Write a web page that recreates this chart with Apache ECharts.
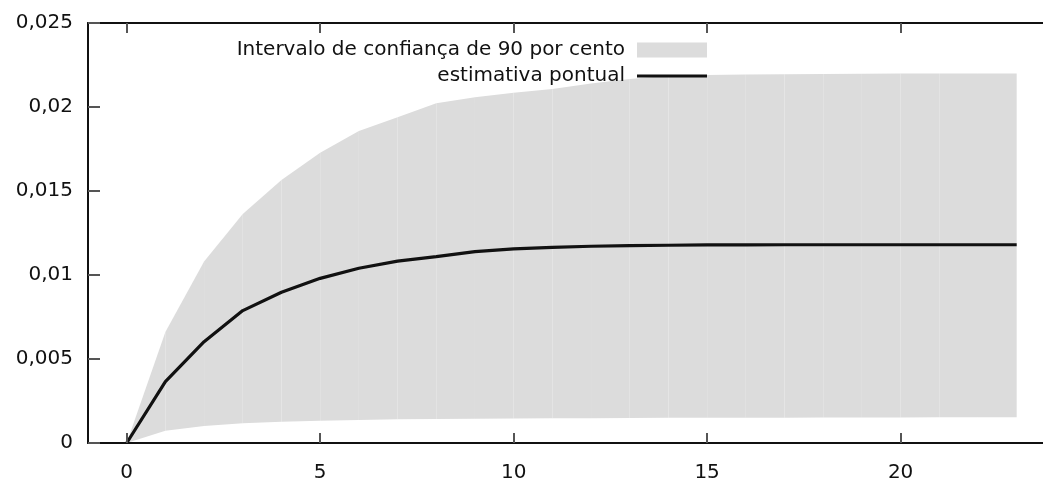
<!DOCTYPE html>
<html>
<head>
<meta charset="utf-8">
<script src="https://cdn.jsdelivr.net/npm/echarts@6/dist/echarts.min.js"></script>
<style>
html,body{margin:0;padding:0;background:#fff;}
#chart{width:1043px;height:479px;}
</style>
</head>
<body>
<div id="chart"></div>
<script>
// Horizons (x values)
const horizon = [0,1,2,3,4,5,6,7,8,9,10,11,12,13,14,15,16,17,18,19,20,21,22,23];
// Lower bound of 90% interval
const lowerBound = [0, 0.00073, 0.00101, 0.00117, 0.00127, 0.00133, 0.00137, 0.00141, 0.00143, 0.00145, 0.00146, 0.00147, 0.00148, 0.00149, 0.0015, 0.0015, 0.00151, 0.00151, 0.00152, 0.00152, 0.00152, 0.00153, 0.00153, 0.00153];
// Upper bound of 90% interval
const upperBound = [0, 0.0066, 0.0108, 0.01363, 0.01565, 0.01728, 0.01857, 0.01939, 0.02022, 0.02058, 0.02085, 0.02107, 0.0214, 0.02167, 0.02186, 0.0219, 0.02193, 0.02195, 0.02197, 0.02198, 0.02199, 0.022, 0.022, 0.022];
// Point estimate
const pointEstimate = [0, 0.00365, 0.00603, 0.00788, 0.00897, 0.0098, 0.0104, 0.01083, 0.01109, 0.01139, 0.01155, 0.01165, 0.01171, 0.01175, 0.01177, 0.01179, 0.01179, 0.0118, 0.0118, 0.0118, 0.0118, 0.0118, 0.0118, 0.0118];
// Tick labels
const xTickValues = [0, 5, 10, 15, 20];
const yTickLabels = ['0', '0,005', '0,01', '0,015', '0,02', '0,025'];
// Series names
const bandName = 'Intervalo de confiança de 90 por cento';
const lineName = 'estimativa pontual';

const FONT = 'DejaVu Sans';
const FS = 20;
const BAND = '#dcdcdc';
const X_MIN = -1, X_MAX = 23.68;
const chart = echarts.init(document.getElementById('chart'), null, {renderer: 'canvas'});

const bandData = horizon.map((h, i) => [h, lowerBound[i], upperBound[i]]);
const lineData = horizon.map((h, i) => [h, pointEstimate[i]]);

const axisLineStyle = {color: '#111', width: 2};
const tickStyle = {color: '#555', width: 2};

function renderBand(params, api) {
  const i = params.dataIndexInside;
  if (i >= params.dataInsideLength - 1) return null;
  const x0 = api.value(0, i), lo0 = api.value(1, i), up0 = api.value(2, i);
  const x1 = api.value(0, i + 1), lo1 = api.value(1, i + 1), up1 = api.value(2, i + 1);
  const pts = [
    api.coord([x0, lo0]), api.coord([x1, lo1]),
    api.coord([x1, up1]), api.coord([x0, up0])
  ];
  return {
    type: 'polygon',
    shape: {points: pts},
    style: {fill: BAND, stroke: null}
  };
}

chart.setOption({
  animation: false,
  backgroundColor: '#fff',
  textStyle: {fontFamily: FONT},
  grid: {left: 88, top: 23, bottom: 36, right: 0, containLabel: false, outerBoundsMode: 'none'},
  legend: [
    {
      data: [{name: bandName, icon: 'rect'}],
      right: 336, top: 40, padding: 0,
      align: 'right',
      itemWidth: 70, itemHeight: 15,
      textStyle: {fontFamily: FONT, fontSize: FS, color: '#111', padding: [0, 7, 0, 0]},
      selectedMode: false
    },
    {
      data: [{name: lineName, icon: 'rect'}],
      right: 336, top: 66, padding: 0,
      align: 'right',
      itemWidth: 70, itemHeight: 3,
      textStyle: {fontFamily: FONT, fontSize: FS, color: '#111', padding: [0, 7, 0, 0]},
      selectedMode: false
    }
  ],
  xAxis: [
    {
      type: 'value', position: 'bottom', min: X_MIN, max: X_MAX, z: 5,
      splitLine: {show: false},
      axisLine: {show: true, onZero: false, lineStyle: axisLineStyle},
      axisTick: {show: true, inside: true, length: 10, lineStyle: tickStyle, customValues: xTickValues},
      axisLabel: {show: true, margin: 20, fontFamily: FONT, fontSize: FS, color: '#111', customValues: xTickValues}
    },
    {
      type: 'value', position: 'top', min: X_MIN, max: X_MAX, z: 5,
      splitLine: {show: false},
      axisLine: {show: true, onZero: false, lineStyle: axisLineStyle},
      axisTick: {show: true, inside: true, length: 10, lineStyle: tickStyle, customValues: xTickValues},
      axisLabel: {show: false, customValues: xTickValues}
    }
  ],
  yAxis: {
    type: 'value', min: 0, max: 0.025, interval: 0.005, z: 5,
    splitLine: {show: false},
    axisLine: {show: true, onZero: false, lineStyle: axisLineStyle},
    axisTick: {show: true, inside: true, length: 12, lineStyle: tickStyle},
    axisLabel: {
      margin: 15, fontFamily: FONT, fontSize: FS, color: '#111',
      formatter: (v, i) => yTickLabels[i]
    }
  },
  series: [
    {
      name: bandName, type: 'custom', data: bandData,
      encode: {x: 0, y: [1, 2]},
      renderItem: renderBand,
      itemStyle: {color: BAND},
      clip: true, silent: true, z: 1
    },
    {
      name: lineName, type: 'line', data: lineData,
      symbol: 'none', itemStyle: {color: '#111'},
      lineStyle: {color: '#111', width: 3.2}, z: 3
    }
  ]
});
</script>
</body>
</html>
